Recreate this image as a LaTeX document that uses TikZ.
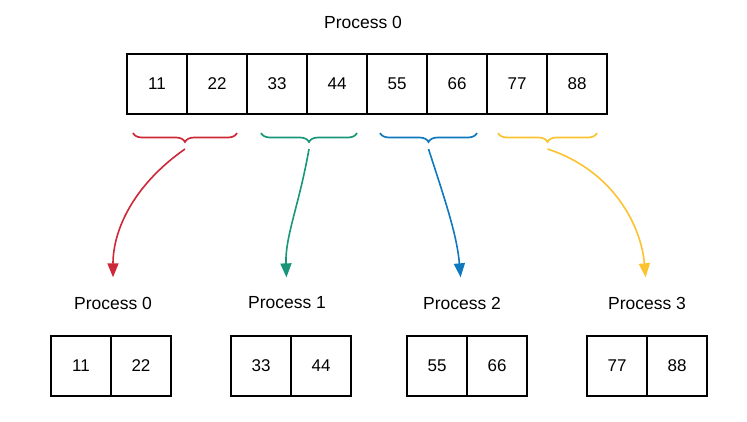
\documentclass[tikz,border=0pt]{standalone}
\usepackage{fontspec}
\setmainfont{Liberation Sans}
\usetikzlibrary{positioning,arrows.meta,decorations.pathreplacing}
\definecolor{bred}{RGB}{205,40,55}
\definecolor{bgreen}{RGB}{25,150,120}
\definecolor{bblue}{RGB}{15,120,190}
\definecolor{byellow}{RGB}{252,195,48}
\tikzset{
    cell/.style={draw, line width=1.6pt, minimum width=60pt, minimum height=60pt, outer sep=0pt, inner sep=0pt, font=\fontsize{17}{20}\selectfont},
    title/.style={font=\fontsize{17.5}{21}\selectfont},
    bracket/.style={decorate, decoration={brace, mirror, amplitude=9pt}, line width=1.7pt},
    send/.style={-{Triangle[length=14pt,width=11pt]}, line width=1.6pt, shorten >=16pt},
}
\begin{document}
\begin{tikzpicture}[x=1pt,y=-1pt]
    \useasboundingbox (0,0) rectangle (747,421);
    \node[title] (top) at (363,22) {Process 0};
    \foreach \v [count=\i] in {11,22,33,44,55,66,77,88}
        \node[cell] (t\i) at ({97+60*\i},84) {\v};

    \foreach \p/\x/\lx/\a/\b/\c/\d/\o/\n in {0/51/113/1/2/bred/6/-145/90,1/231/287/3/4/bgreen/14/-100/92,2/407/462/5/6/bblue/13/-72/95,3/587/647/7/8/byellow/11/-18/95}{
        % bottom part
        \node[cell] (p\p a) at (\x+30,366) {\pgfmathparse{int(11*\a)}\pgfmathresult};
        \node[cell, right=0pt of p\p a] (p\p b) {\pgfmathparse{int(11*\b)}\pgfmathresult};
        \node[title] (l\p) at (\lx,303) {Process \p};
        % brace under the top cells
        \draw[bracket, \c] ([xshift=\d pt,yshift=-19pt]t\a.south west) -- coordinate[yshift=-16pt] (s\p) ([xshift=-10pt,yshift=-19pt]t\b.south east);
        \draw[send, \c] (s\p) to[out=\o, in=\n] (l\p.north);
    }
\end{tikzpicture}
\end{document}
